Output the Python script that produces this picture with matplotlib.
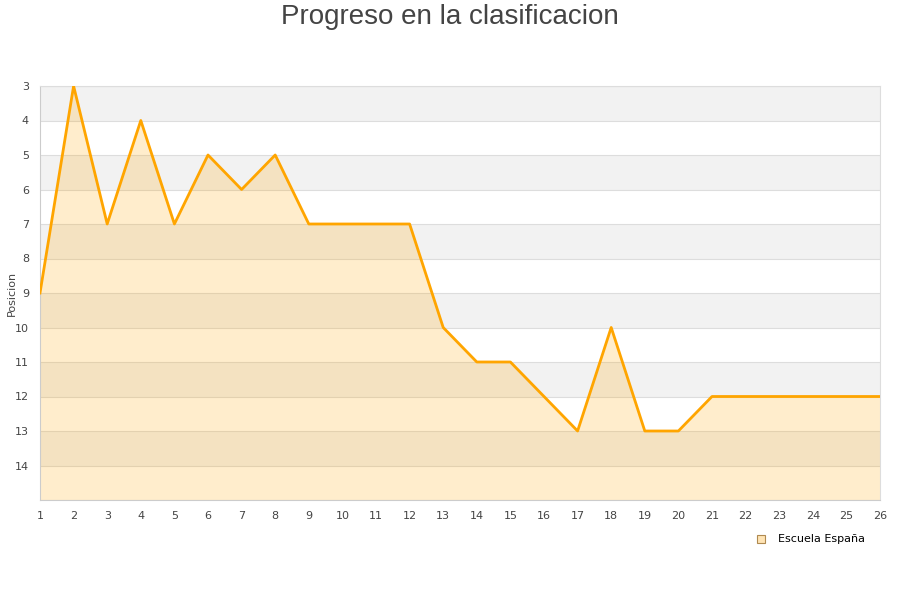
import matplotlib
matplotlib.use("Agg")
import matplotlib.pyplot as plt
from matplotlib.lines import Line2D

jornadas = list(range(1, 27))
posicion = [9, 3, 7, 4, 7, 5, 6, 5, 7, 7, 7, 7, 10, 11, 11, 12, 13, 10, 13, 13,
            12, 12, 12, 12, 12, 12]
serie = "Escuela España"
y_ticks = list(range(3, 15))

fig = plt.figure(figsize=(9, 6), dpi=100)
ax = fig.add_axes([40 / 900, 100 / 600, 840 / 900, 414 / 600])

# alternating bands
for y in range(3, 15, 2):
    ax.axhspan(y, y + 1, color="#f2f2f2", lw=0, zorder=0)
for y in range(3, 16):
    ax.axhline(y, color="#dddddd", lw=0.8, zorder=1)

ax.fill_between(jornadas, posicion, 15, color="#ffa500", alpha=0.2, lw=0, zorder=2)
ax.plot(jornadas, posicion, color="#ffa500", lw=2, zorder=3)

ax.set_xlim(1, 26)
ax.set_ylim(15, 3)
ax.set_xticks(jornadas)
ax.set_yticks(y_ticks)
ax.tick_params(axis="both", length=0, labelsize=8, colors="#444444", pad=8)
for s in ["left", "bottom"]:
    ax.spines[s].set_color("#cccccc")
for s in ["top", "right"]:
    ax.spines[s].set_color("#dddddd")

ax.set_ylabel("Posicion", fontsize=8, color="#444444")
ax.yaxis.set_label_coords(-0.028, 0.5)
fig.suptitle("Progreso en la clasificacion", fontsize=20, color="#444444",
             family="Liberation Sans", y=0.993)

handle = Line2D([], [], marker="s", ls="none", markersize=6,
                markerfacecolor="#ffe4b5", markeredgecolor="#b08a50", markeredgewidth=0.8)
fig.legend([handle], [serie], loc="center", bbox_to_anchor=(0.897, 0.101),
           frameon=False, fontsize=8, handletextpad=0.5)

fig.savefig("out.png", dpi=100)
